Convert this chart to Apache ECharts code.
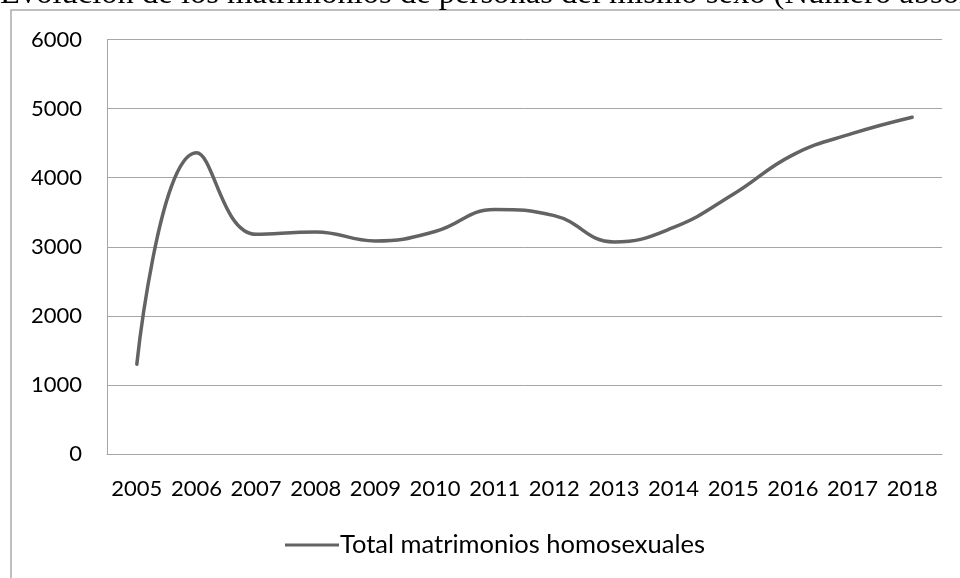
<!DOCTYPE html>
<html>
<head>
<meta charset="utf-8">
<script src="https://cdn.jsdelivr.net/npm/echarts@6/dist/echarts.min.js"></script>
<style>
  html, body { margin: 0; padding: 0; background: #fff; }
  #chart { width: 960px; height: 578px; }
</style>
</head>
<body>
<div id="chart"></div>
<script>
// data
const years = ['2005', '2006', '2007', '2008', '2009', '2010', '2011',
  '2012', '2013', '2014', '2015', '2016', '2017', '2018'];
const totalMatrimonios = [1300, 4360, 3180, 3215, 3085, 3220, 3540,
  3450, 3070, 3280, 3760, 4330, 4640, 4875];
const yTicks = ['0', '1000', '2000', '3000', '4000', '5000', '6000'];
const seriesName = 'Total matrimonios homosexuales';
const chartTitle = 'Evolución de los matrimonios de personas del mismo sexo (Número absoluto)';

const chart = echarts.init(document.getElementById('chart'), null, { renderer: 'canvas' });

const labelFont = 'Lato, "Open Sans", sans-serif';

chart.setOption({
  animation: false,
  backgroundColor: '#fff',
  graphic: [
    {
      // outer frame, runs off the right and bottom edges
      type: 'rect',
      shape: { x: 11, y: 10, width: 1100, height: 700 },
      style: { fill: 'none', stroke: '#ababab', lineWidth: 1.5 },
      silent: true
    },
    {
      // title, mostly clipped by the top edge
      type: 'text',
      x: 0,
      y: 10.5,
      style: {
        text: chartTitle,
        font: '32.6px "Liberation Serif", "DejaVu Serif", serif',
        fill: '#000',
        verticalAlign: 'bottom'
      },
      silent: true
    }
  ],
  grid: {
    left: 107,
    right: 18,
    top: 39.5,
    bottom: 124
  },
  legend: {
    data: [seriesName],
    left: 285,
    top: 532,
    padding: 0,
    itemWidth: 54,
    itemHeight: 3,
    icon: 'path://M0,0 L54,0 L54,3 L0,3 Z',
    textStyle: {
      fontFamily: labelFont,
      fontSize: 25.5,
      color: '#000',
      padding: [0, 0, 0, -4]
    }
  },
  xAxis: {
    type: 'category',
    data: years,
    boundaryGap: true,
    axisLine: { show: true, lineStyle: { color: '#a6a6a6', width: 1 } },
    axisTick: { show: false },
    axisLabel: {
      fontFamily: labelFont,
      fontSize: 22,
      color: '#000',
      margin: 24,
      interval: 0
    }
  },
  yAxis: {
    type: 'value',
    min: 0,
    max: 6000,
    interval: 1000,
    axisLine: { show: true, lineStyle: { color: '#a6a6a6', width: 1 } },
    axisTick: { show: false },
    axisLabel: {
      fontFamily: labelFont,
      fontSize: 22,
      color: '#000',
      margin: 25,
      formatter: (v) => yTicks[Math.round(v / 1000)]
    },
    splitLine: { lineStyle: { color: '#a6a6a6', width: 1 } }
  },
  series: [
    {
      name: seriesName,
      type: 'line',
      data: totalMatrimonios,
      smooth: 0.45,
      showSymbol: false,
      symbol: 'none',
      lineStyle: { color: '#636363', width: 3.5, cap: 'round' },
      itemStyle: { color: '#636363' }
    }
  ]
});
</script>
</body>
</html>
